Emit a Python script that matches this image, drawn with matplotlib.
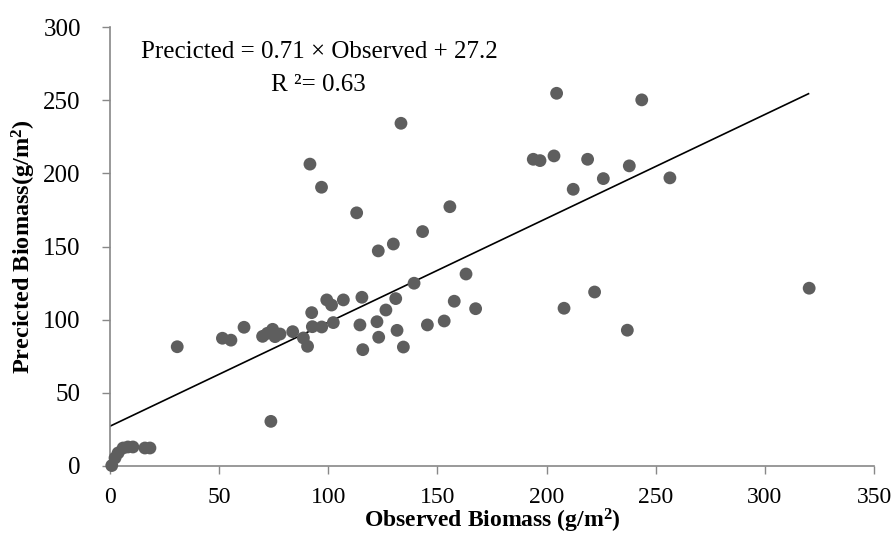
import matplotlib
matplotlib.use("Agg")
import matplotlib.pyplot as plt
import numpy as np

plt.rcParams['font.family'] = ['Liberation Serif', 'DejaVu Serif']
plt.rcParams['mathtext.fontset'] = 'custom'
plt.rcParams['mathtext.rm'] = 'Liberation Serif'
plt.rcParams['mathtext.bf'] = 'Liberation Serif:bold'
plt.rcParams['mathtext.it'] = 'Liberation Serif:italic'

observed = [0.8, 2.3, 3.7, 6.0, 8.2, 10.5, 16.0, 18.3,
            30.8, 51.5, 55.4, 61.4, 69.9, 72.1, 74.5, 75.6, 77.9, 83.7, 88.6, 90.5,
            92.4, 92.7, 97.0, 102.3, 99.3, 101.5, 106.9, 73.7, 91.6, 96.9,
            113.0, 114.5, 115.4, 115.8, 122.3, 122.9, 123.1, 126.4, 129.8, 130.9,
            131.5, 133.3, 134.4, 139.3, 143.2, 145.4, 153.1, 155.7, 157.7, 163.1, 167.5,
            193.9, 197.0, 203.4, 204.6, 208.0, 212.2, 218.8, 222.0, 226.0, 237.0,
            237.9, 243.6, 256.5, 320.3]
predicted = [0.3, 5.5, 8.9, 12.3, 13.0, 13.0, 12.3, 12.3,
             81.5, 87.3, 86.0, 94.8, 88.6, 90.7, 93.4, 88.4, 90.2, 91.8, 87.5, 81.8,
             104.8, 95.2, 95.0, 98.0, 113.5, 110.0, 113.5, 30.5, 206.3, 190.5,
             173.0, 96.4, 115.3, 79.5, 98.6, 147.0, 88.0, 106.6, 151.7, 114.4,
             92.7, 234.2, 81.3, 124.9, 160.2, 96.4, 99.1, 177.2, 112.6, 131.2, 107.5,
             209.6, 208.7, 211.9, 254.7, 107.8, 189.1, 209.6, 118.9, 196.4, 92.8,
             205.1, 250.2, 196.9, 121.5]

slope = 0.71
intercept = 27.2
fit_x = [0, 320]

xticks = [0, 50, 100, 150, 200, 250, 300, 350]
yticks = [0, 50, 100, 150, 200, 250, 300]

fig = plt.figure(figsize=(8.91, 5.35), dpi=100)
ax = fig.add_axes([110/891, 69/535, 764/891, 439/535])

ax.scatter(observed, predicted, s=85, color='#5e5e5e', edgecolors='none', zorder=3, clip_on=False)
fx = np.array(fit_x, dtype=float)
ax.plot(fx, slope*fx + intercept, color='black', lw=1.2, zorder=2)

ax.set_xlim(0, 350)
ax.set_ylim(0, 300)
ax.set_xticks(xticks)
ax.set_yticks(yticks)
ax.tick_params(axis='both', direction='out', length=6, width=1, color='#888888',
               labelsize=18)
ax.tick_params(axis='x', pad=9, labelsize=17)
ax.tick_params(axis='y', pad=15)
for s in ['top', 'right']:
    ax.spines[s].set_visible(False)
for s in ['left', 'bottom']:
    ax.spines[s].set_color('#888888')
    ax.spines[s].set_linewidth(1.2)

ax.set_xlabel('Observed Biomass (g/m$^{\\mathbf{2}}$)', fontsize=17, fontweight='bold', labelpad=-1)
ax.set_ylabel('Precicted Biomass(g/m$^{\\mathbf{2}}$)', fontsize=17.5, fontweight='bold', labelpad=4)

fig.text(319/891, 1-52/535, 'Precicted = 0.71 × Observed + 27.2', fontsize=18,
         ha='center', va='center')
fig.text(318/891, 1-85/535, 'R ²= 0.63', fontsize=18, ha='center', va='center')

fig.savefig('out.png', dpi=100)
